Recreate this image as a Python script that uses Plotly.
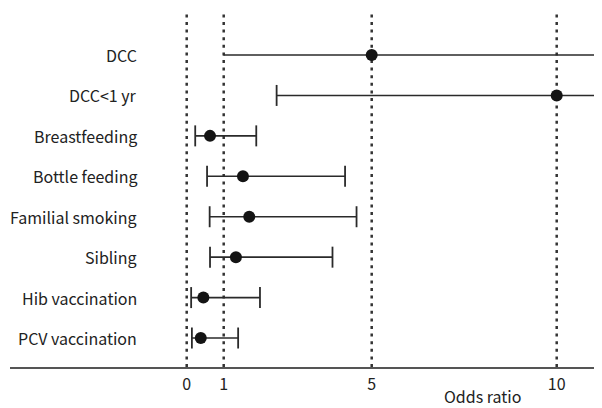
import plotly.graph_objects as go

categories = ["DCC", "DCC<1 yr", "Breastfeeding", "Bottle feeding",
              "Familial smoking", "Sibling", "Hib vaccination", "PCV vaccination"]
odds_ratio = [5.0, 10.0, 0.63, 1.52, 1.69, 1.33, 0.45, 0.38]
ci_lower = [0.99, 2.43, 0.23, 0.55, 0.62, 0.63, 0.12, 0.14]
ci_upper = [14.0, 18.0, 1.88, 4.28, 4.59, 3.94, 1.98, 1.39]
lower_cap_shown = [False, True, True, True, True, True, True, True]
tick_vals = [0, 1, 5, 10]
tick_text = ["0", "1", "5", "10"]
x_title = "Odds ratio"

FONT = "Noto Sans CJK KR"
INK = "#222222"
n = len(categories)
rows = [n - i for i in range(n)]

fig = go.Figure()

# reference dotted lines
for v in tick_vals:
    fig.add_shape(type="line", xref="x", yref="paper", x0=v, x1=v, y0=0, y1=1,
                  line=dict(color="#333333", width=2.5, dash="3px,4.6px"), layer="below")

# CI lines
for i in range(n):
    fig.add_trace(go.Scatter(x=[ci_lower[i], ci_upper[i]], y=[rows[i], rows[i]],
                             mode="lines", line=dict(color="#2a2a2a", width=1.6),
                             showlegend=False, hoverinfo="skip"))

# caps
cap_x, cap_y = [], []
for i in range(n):
    if lower_cap_shown[i]:
        cap_x.append(ci_lower[i]); cap_y.append(rows[i])
    cap_x.append(ci_upper[i]); cap_y.append(rows[i])
fig.add_trace(go.Scatter(x=cap_x, y=cap_y, mode="markers", cliponaxis=True,
                         marker=dict(symbol="line-ns", size=15,
                                     line=dict(color="#2a2a2a", width=1.8)),
                         showlegend=False, hoverinfo="skip"))

# points
fig.add_trace(go.Scatter(x=odds_ratio, y=rows, mode="markers", cliponaxis=True,
                         marker=dict(symbol="circle", size=12, color="#141414"),
                         showlegend=False))

# category labels
for i in range(n):
    fig.add_annotation(x=-1.3, y=rows[i], xref="x", yref="y", text=categories[i],
                       showarrow=False, xanchor="right", yanchor="middle",
                       font=dict(family=FONT, size=16, color=INK))

fig.add_annotation(x=(482 - 186.7) / 37.0, y=-0.082, xref="x", yref="paper",
                   text=x_title, showarrow=False, yanchor="middle",
                   font=dict(family=FONT, size=16, color=INK))

fig.update_layout(
    width=594, height=400,
    margin=dict(l=2, r=0, t=4, b=41),
    plot_bgcolor="white", paper_bgcolor="white",
    font=dict(family=FONT, size=16, color=INK),
    xaxis=dict(range=[-4.776, 11.224], tickvals=tick_vals, ticktext=tick_text,
               showgrid=False, zeroline=False, showline=True, linecolor="#555555",
               linewidth=2, ticks="", ticklabelstandoff=2,
               tickfont=dict(family=FONT, size=16, color=INK)),
    yaxis=dict(range=[0.283, 9.064], showgrid=False, zeroline=False,
               showticklabels=False, showline=False),
)

fig.write_html("out.html")
